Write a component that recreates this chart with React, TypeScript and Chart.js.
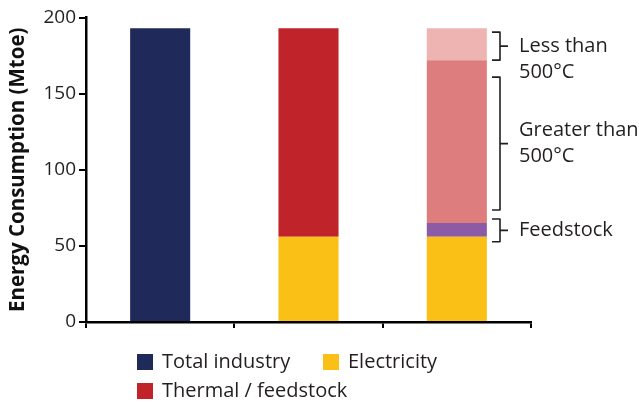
import React, { useEffect, useRef } from "react";
import { Chart, registerables } from "chart.js";

Chart.register(...registerables);

// Categories (no axis labels are shown under the bars)
const categories = ["Total industry", "Electricity and thermal", "Thermal by temperature"];

// Energy consumption in Mtoe
const totalIndustry = [193, null, null];
const electricity = [null, 56, 56];
const thermalFeedstock = [null, 137, null];
const feedstock = [null, null, 9];
const above500 = [null, null, 107];
const below500 = [null, null, 21];

const yMin = 0;
const yMax = 200;
const yStep = 50;

const legendLabels = ["Total industry", "Electricity", "Thermal / feedstock"];

const FONT = "'Open Sans', 'Noto Sans', sans-serif";
const INK = "#231f20";

const COLORS = {
  total: "#1f2a5a",
  electricity: "#fbc015",
  thermal: "#c1232a",
  feedstock: "#8b5ba5",
  above500: "#de7d7d",
  below500: "#eeb4b2",
};

// Brace annotations next to the third bar, spanning each thermal slice
const base3 = electricity[2] as number;
const braces = [
  {
    lines: ["Less than", "500°C"],
    from: base3 + (feedstock[2] as number) + (above500[2] as number),
    to: base3 + (feedstock[2] as number) + (above500[2] as number) + (below500[2] as number),
    insetTop: 4,
    insetBottom: 0,
    firstLine: 0,
  },
  {
    lines: ["Greater than", "500°C"],
    from: base3 + (feedstock[2] as number),
    to: base3 + (feedstock[2] as number) + (above500[2] as number),
    insetTop: 17,
    insetBottom: 13,
    firstLine: -13,
  },
  {
    lines: ["Feedstock"],
    from: base3,
    to: base3 + (feedstock[2] as number),
    insetTop: -4,
    insetBottom: -5,
    firstLine: 0,
  },
];

const bracePlugin = {
  id: "braces",
  afterDatasetsDraw(chart: any) {
    const { ctx, chartArea } = chart;
    const y = chart.scales.y;
    const bx = chartArea.right - 31;
    const tx = chartArea.right - 12;
    ctx.save();
    ctx.strokeStyle = INK;
    ctx.lineWidth = 1.6;
    ctx.lineJoin = "round";
    ctx.fillStyle = INK;
    ctx.font = `20px ${FONT}`;
    ctx.textBaseline = "middle";
    ctx.textAlign = "left";
    for (const b of braces) {
      const top = y.getPixelForValue(b.to) + b.insetTop;
      const bottom = y.getPixelForValue(b.from) - b.insetBottom;
      const mid = (top + bottom) / 2;
      ctx.beginPath();
      ctx.moveTo(bx - 8, top);
      ctx.lineTo(bx, top);
      ctx.lineTo(bx, bottom);
      ctx.lineTo(bx - 8, bottom);
      ctx.moveTo(bx, mid);
      ctx.lineTo(bx + 8, mid);
      ctx.stroke();
      b.lines.forEach((line, i) => ctx.fillText(line, tx, mid + b.firstLine + i * 26));
    }
    ctx.restore();
  },
};

// Two-column legend under the plot
const legendPlugin = {
  id: "gridLegend",
  afterDraw(chart: any) {
    const { ctx } = chart;
    const cols = [137, 323];
    const rows = [362, 391];
    const items = chart.data.datasets.filter((d: any) => legendLabels.includes(d.label));
    ctx.save();
    ctx.font = `20px ${FONT}`;
    ctx.textBaseline = "middle";
    ctx.textAlign = "left";
    items.forEach((d: any, i: number) => {
      const x = cols[i % 2];
      const yc = rows[Math.floor(i / 2)];
      ctx.fillStyle = d.backgroundColor;
      ctx.fillRect(x, yc - 8, 16, 16);
      ctx.fillStyle = INK;
      ctx.fillText(d.label, x + 25, yc);
    });
    ctx.restore();
  },
};

export default function App() {
  const canvasRef = useRef<HTMLCanvasElement>(null);

  useEffect(() => {
    const canvas = canvasRef.current;
    if (!canvas) return;
    const chart = new Chart(canvas, {
      type: "bar",
      data: {
        labels: categories,
        datasets: [
          { label: "Total industry", data: totalIndustry, backgroundColor: COLORS.total },
          { label: "Electricity", data: electricity, backgroundColor: COLORS.electricity },
          { label: "Thermal / feedstock", data: thermalFeedstock, backgroundColor: COLORS.thermal },
          { label: "Feedstock", data: feedstock, backgroundColor: COLORS.feedstock },
          { label: "Greater than 500°C", data: above500, backgroundColor: COLORS.above500 },
          { label: "Less than 500°C", data: below500, backgroundColor: COLORS.below500 },
        ] as any,
      },
      options: {
        responsive: false,
        animation: false,
        layout: { padding: { left: 0, right: 108, top: 17.5, bottom: 0 } },
        datasets: { bar: { barPercentage: 0.405, categoryPercentage: 1, borderWidth: 0 } },
        plugins: { legend: { display: false }, tooltip: { enabled: false } },
        scales: {
          x: {
            stacked: true,
            ticks: { display: false },
            grid: {
              drawOnChartArea: false,
              color: "#000",
              lineWidth: 2,
              tickLength: 6,
            },
            border: { color: "#000", width: 2.5 },
            afterFit(scale: any) {
              scale.height = 80;
            },
          },
          y: {
            stacked: true,
            min: yMin,
            max: yMax,
            ticks: {
              stepSize: yStep,
              padding: 3,
              color: INK,
              font: { family: FONT, size: 19 },
            },
            grid: {
              drawOnChartArea: false,
              color: "#000",
              lineWidth: 2,
              tickLength: 7,
            },
            border: { color: "#000", width: 2.5 },
            title: {
              display: true,
              text: "Energy Consumption (Mtoe)",
              color: "#111",
              font: { family: FONT, size: 20.5, weight: "bold", lineHeight: 1 },
              padding: { top: 8, bottom: 0 },
            },
            afterFit(scale: any) {
              scale.width = 86;
            },
          },
        },
      },
      plugins: [bracePlugin, legendPlugin],
    });
    return () => chart.destroy();
  }, []);

  return (
    <div style={{ position: "fixed", left: 0, top: 0, width: 639, height: 402, background: "#fff" }}>
      <canvas ref={canvasRef} width={639} height={402} />
    </div>
  );
}
